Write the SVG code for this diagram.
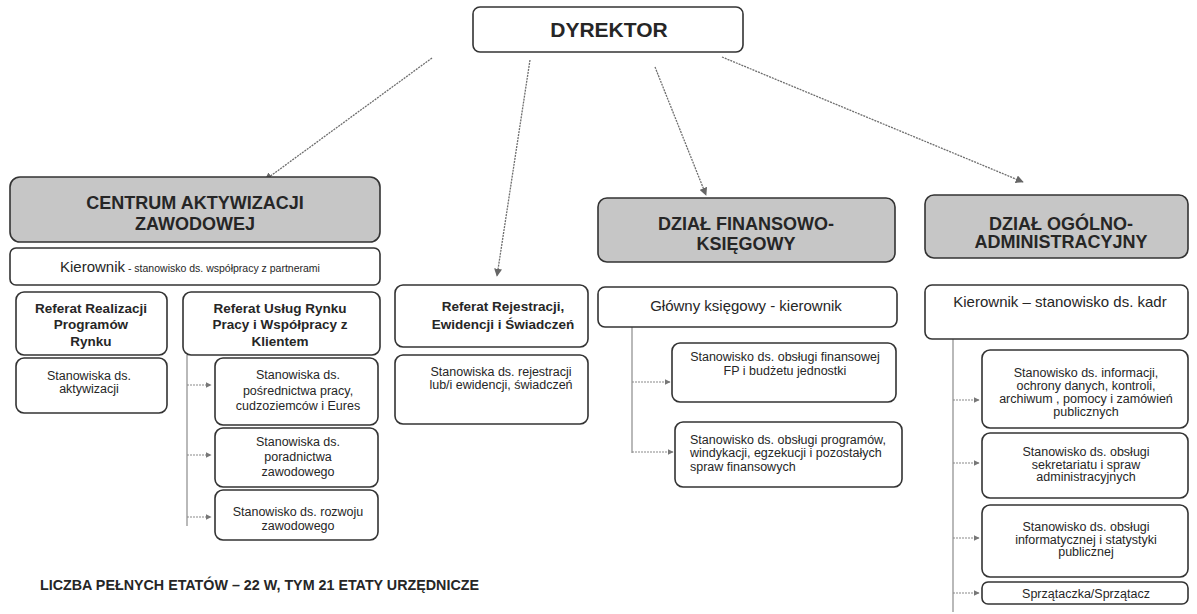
<svg xmlns="http://www.w3.org/2000/svg" width="1197" height="614" viewBox="0 0 1197 614">
<style>
text{font-family:"Liberation Sans",Arial,sans-serif;fill:#262626}
.box{fill:#ffffff;stroke:#333333;stroke-width:1.6}
.head{fill:#c6c6c6;stroke:#333333;stroke-width:1.6}
.h{font-size:18px;font-weight:bold;text-anchor:middle}
.b{font-size:13.5px;font-weight:bold;text-anchor:middle}
.m{font-size:15px}
.mc{font-size:15px;text-anchor:middle}
.s{font-size:12.5px;text-anchor:middle}
.sl{font-size:12.5px}
.conn{fill:none;stroke:#6e6e6e;stroke-width:1.3;stroke-dasharray:2 1}
.tree{fill:none;stroke:#8a8a8a;stroke-width:1.2}
.br{fill:none;stroke:#8a8a8a;stroke-width:1.1;stroke-dasharray:2 1}
</style>
<defs>
<marker id="ah" viewBox="0 0 10 10" refX="9" refY="5" markerWidth="8" markerHeight="8" markerUnits="userSpaceOnUse" orient="auto">
<path d="M0,0 L10,5 L0,10 z" fill="#666"/>
</marker>
<marker id="as" viewBox="0 0 10 10" refX="9" refY="5" markerWidth="6" markerHeight="6" markerUnits="userSpaceOnUse" orient="auto">
<path d="M0,0 L10,5 L0,10 z" fill="#777"/>
</marker>
</defs>

<g id="connectors">
<line class="conn" x1="432" y1="58" x2="265" y2="180" marker-end="url(#ah)"/>
<line class="conn" x1="530" y1="60" x2="497" y2="276" marker-end="url(#ah)"/>
<line class="conn" x1="655" y1="67" x2="706" y2="195" marker-end="url(#ah)"/>
<line class="conn" x1="722" y1="57" x2="1023" y2="182" marker-end="url(#ah)"/>
<line class="tree" x1="187" y1="355" x2="187" y2="526"/>
<line class="br" x1="187" y1="385" x2="211" y2="385" marker-end="url(#as)"/>
<line class="br" x1="187" y1="455" x2="211" y2="455" marker-end="url(#as)"/>
<line class="br" x1="187" y1="517" x2="211" y2="517" marker-end="url(#as)"/>
<line class="tree" x1="632" y1="327" x2="632" y2="453"/>
<line class="br" x1="632" y1="382" x2="670" y2="382" marker-end="url(#as)"/>
<line class="br" x1="632" y1="452" x2="673" y2="452" marker-end="url(#as)"/>
<line class="tree" x1="953" y1="339" x2="953" y2="612"/>
<line class="br" x1="953" y1="400" x2="979" y2="400" marker-end="url(#as)"/>
<line class="br" x1="953" y1="463" x2="979" y2="463" marker-end="url(#as)"/>
<line class="br" x1="953" y1="538" x2="979" y2="538" marker-end="url(#as)"/>
<line class="br" x1="953" y1="593" x2="979" y2="593" marker-end="url(#as)"/>
</g>

<g id="dyrektor">
<rect class="box" x="473" y="7" width="270" height="45" rx="7" fill="#fbfbfb"/>
<text x="609" y="37" font-size="21" font-weight="bold" text-anchor="middle">DYREKTOR</text>
</g>

<g id="centrum">
<rect class="head" x="10" y="177" width="370" height="65" rx="10"/>
<text class="h" x="195" y="209">CENTRUM AKTYWIZACJI</text>
<text class="h" x="195" y="230">ZAWODOWEJ</text>
</g>

<g id="kierownik-caz">
<rect class="box" x="10" y="248" width="370" height="37" rx="6"/>
<text x="60" y="272"><tspan class="m">Kierownik</tspan><tspan font-size="10.5px"> - stanowisko ds. współpracy z partnerami</tspan></text>
</g>

<g id="referat-realizacji">
<rect class="box" x="16" y="292" width="151" height="63" rx="8"/>
<text class="b" x="91" y="313">Referat Realizacji</text>
<text class="b" x="91" y="329">Programów</text>
<text class="b" x="91" y="346">Rynku</text>
</g>

<g id="referat-uslug">
<rect class="box" x="183" y="292" width="197" height="63" rx="8"/>
<text class="b" x="280" y="313">Referat Usług Rynku</text>
<text class="b" x="280" y="329">Pracy i Współpracy z</text>
<text class="b" x="280" y="346">Klientem</text>
</g>

<g id="st-aktywizacji">
<rect class="box" x="16" y="358" width="151" height="55" rx="8"/>
<text class="s" x="89" y="380">Stanowiska ds.</text>
<text class="s" x="89" y="393">aktywizacji</text>
</g>

<g id="st-posrednictwa">
<rect class="box" x="215" y="358" width="163" height="67" rx="8"/>
<text class="s" x="298" y="379">Stanowiska ds.</text>
<text class="s" x="298" y="395">pośrednictwa pracy,</text>
<text class="s" x="298" y="410">cudzoziemców i Eures</text>
</g>

<g id="st-poradnictwa">
<rect class="box" x="215" y="428" width="163" height="59" rx="8"/>
<text class="s" x="298" y="446">Stanowiska ds.</text>
<text class="s" x="298" y="461">poradnictwa</text>
<text class="s" x="298" y="476">zawodowego</text>
</g>

<g id="st-rozwoju">
<rect class="box" x="215" y="490" width="163" height="50" rx="8"/>
<text class="s" x="298" y="516">Stanowisko ds. rozwoju</text>
<text class="s" x="298" y="530">zawodowego</text>
</g>

<g id="referat-rejestracji">
<rect class="box" x="395" y="285" width="193" height="62" rx="8"/>
<text class="b" x="503" y="311">Referat Rejestracji,</text>
<text class="b" x="503" y="329">Ewidencji i Świadczeń</text>
</g>

<g id="st-rejestracji">
<rect class="box" x="395" y="355" width="193" height="69" rx="8"/>
<text class="s" x="501" y="376">Stanowiska ds. rejestracji</text>
<text class="s" x="501" y="389">lub/i ewidencji, świadczeń</text>
</g>

<g id="dzial-finansowy">
<rect class="head" x="598" y="198" width="297" height="64" rx="9"/>
<text class="h" x="746" y="230">DZIAŁ FINANSOWO-</text>
<text class="h" x="746" y="250">KSIĘGOWY</text>
</g>

<g id="glowny-ksiegowy">
<rect class="box" x="598" y="287" width="299" height="40" rx="7"/>
<text class="mc" x="746" y="311">Główny księgowy - kierownik</text>
</g>

<g id="st-fp">
<rect class="box" x="672" y="343" width="224" height="59" rx="8"/>
<text class="s" x="785" y="361">Stanowisko ds. obsługi finansowej</text>
<text class="s" x="785" y="375">FP i budżetu jednostki</text>
</g>

<g id="st-programow">
<rect class="box" x="675" y="422" width="227" height="65" rx="8"/>
<text class="sl" x="690" y="444">Stanowisko ds. obsługi programów,</text>
<text class="sl" x="690" y="457">windykacji, egzekucji i pozostałych</text>
<text class="sl" x="690" y="471">spraw finansowych</text>
</g>

<g id="dzial-ogolny">
<rect class="head" x="925" y="195" width="263" height="63" rx="9"/>
<text class="h" x="1061" y="230">DZIAŁ OGÓLNO-</text>
<text class="h" x="1061" y="248">ADMINISTRACYJNY</text>
</g>

<g id="kierownik-kadr">
<rect class="box" x="925" y="285" width="263" height="54" rx="7"/>
<text class="mc" x="1060" y="307">Kierownik – stanowisko ds. kadr</text>
</g>

<g id="st-informacji">
<rect class="box" x="982" y="350" width="206" height="78" rx="8"/>
<text class="s" x="1086" y="377">Stanowisko  ds. informacji,</text>
<text class="s" x="1086" y="390">ochrony danych, kontroli,</text>
<text class="s" x="1086" y="403">archiwum , pomocy i zamówień</text>
<text class="s" x="1086" y="416">publicznych</text>
</g>

<g id="st-sekretariatu">
<rect class="box" x="982" y="433" width="206" height="65" rx="8"/>
<text class="s" x="1086" y="456">Stanowisko ds. obsługi</text>
<text class="s" x="1086" y="469">sekretariatu i spraw</text>
<text class="s" x="1086" y="481">administracyjnych</text>
</g>

<g id="st-informatycznej">
<rect class="box" x="982" y="505" width="206" height="72" rx="8"/>
<text class="s" x="1086" y="531">Stanowisko ds. obsługi</text>
<text class="s" x="1086" y="544">informatycznej i statystyki</text>
<text class="s" x="1086" y="556">publicznej</text>
</g>

<g id="sprzataczka">
<rect class="box" x="982" y="582" width="206" height="22" rx="6"/>
<text class="s" x="1086" y="598">Sprzątaczka/Sprzątacz</text>
</g>

<g id="footer">
<text x="40" y="590" font-size="14.3px" font-weight="bold">LICZBA PEŁNYCH ETATÓW – 22 W, TYM 21 ETATY URZĘDNICZE</text>
</g>
</svg>
